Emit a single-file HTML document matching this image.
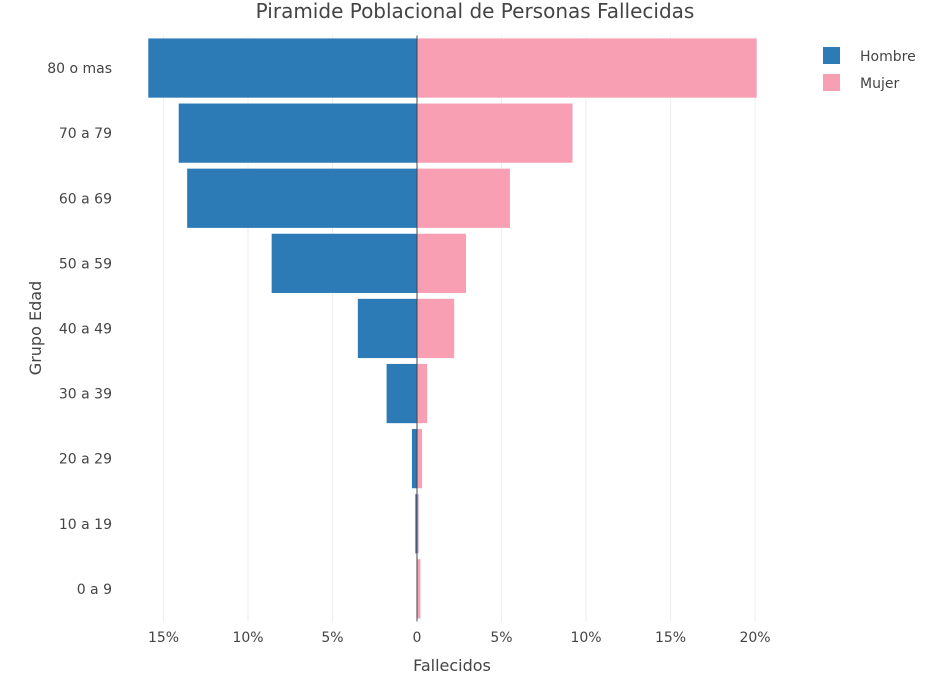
<!DOCTYPE html>
<html><head><meta charset="utf-8"><style>
body{margin:0;background:#fff;}
svg{display:block;font-family:"DejaVu Sans","Liberation Sans",sans-serif;}
</style></head><body>
<svg id="c" width="950" height="679" xmlns="http://www.w3.org/2000/svg">
<text x="475" y="18" text-anchor="middle" font-size="20" fill="#444">Piramide Poblacional de Personas Fallecidas</text>
<g id="grid"></g><g id="bars"></g><g id="axes"></g>
<text x="452" y="671" text-anchor="middle" font-size="16" fill="#444">Fallecidos</text>
<text transform="translate(41,328) rotate(-90)" text-anchor="middle" font-size="16" fill="#444">Grupo Edad</text>
<g>
<g><rect x="823" y="47" width="17" height="17" fill="#2c7bb6"/><text x="860" y="61" font-size="14" fill="#444">Hombre</text></g>
<g><rect x="823" y="74" width="17" height="17" fill="#f99fb4"/><text x="860" y="88" font-size="14" fill="#444">Mujer</text></g>
</g>
</svg>
<script>
const categories=["80 o mas","70 a 79","60 a 69","50 a 59","40 a 49","30 a 39","20 a 29","10 a 19","0 a 9"];
const hombre=[15.9,14.1,13.6,8.6,3.5,1.8,0.3,0.1,0.0];
const mujer=[20.1,9.2,5.5,2.9,2.2,0.6,0.3,0.1,0.2];
const xTicks=[-15,-10,-5,0,5,10,15,20];
const xTickLabels=["15%","10%","5%","0","5%","10%","15%","20%"];
const NS="http://www.w3.org/2000/svg";
const x0=417,pxPer=16.9,plotTop=35.5,band=65.1;
const xs=v=>x0+v*pxPer;
const yc=i=>plotTop+band*(i+0.5);
function mk(t,a,p){const e=document.createElementNS(NS,t);for(const k in a)e.setAttribute(k,a[k]);p.appendChild(e);return e;}
const G=document.getElementById('grid'),B=document.getElementById('bars'),A=document.getElementById('axes');
xTicks.forEach((t,i)=>{
 if(t!==0){const l=mk('line',{x1:xs(t),x2:xs(t),y1:plotTop,y2:plotTop+band*categories.length,stroke:'#eee','stroke-width':1},G);
 
 }
 const tx=mk('text',{x:xs(t),y:642,'text-anchor':'middle','font-size':14,fill:'#444'},A);
 tx.textContent=xTickLabels[i];
 
 
});
const bh=band*0.91;
categories.forEach((c,i)=>{
 const h=hombre[i],m=mujer[i];
 const r1=mk('rect',{x:xs(-h),y:yc(i)-bh/2,width:Math.max(0,xs(0)-xs(-h)),height:bh,fill:'#2c7bb6'},B);
 
 
 const r2=mk('rect',{x:xs(0),y:yc(i)-bh/2,width:Math.max(0,xs(m)-xs(0)),height:bh,fill:'#f99fb4'},B);
 
 
 const tx=mk('text',{x:112,y:yc(i)+5,'text-anchor':'end','font-size':14,fill:'#444'},A);
 tx.textContent=c;
 
 
});
const z=mk('line',{x1:xs(0),x2:xs(0),y1:plotTop,y2:plotTop+band*categories.length,stroke:'#444','stroke-width':1},A);


</script>
</body></html>
